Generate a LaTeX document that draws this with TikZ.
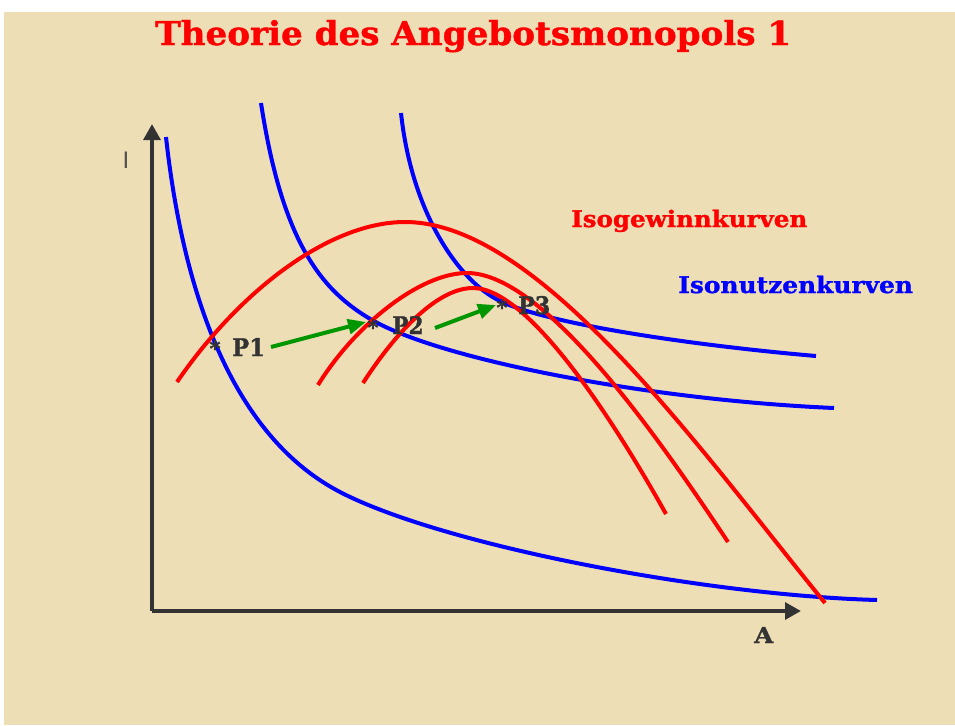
\documentclass[tikz,border=0pt]{standalone}
\usepackage{fontspec}
\usepackage{graphicx}
\usetikzlibrary{arrows.meta}
\newfontfamily\slabfont[BoldFeatures={FakeBold=1.2}]{DejaVu Serif}
\newfontfamily\thinfont{Liberation Sans}
\definecolor{parch}{RGB}{238,222,181}
\definecolor{axisgray}{RGB}{51,51,51}
\definecolor{arrgreen}{RGB}{0,150,0}
\newcommand{\fitbox}[3]{\resizebox{#1}{#2}{\slabfont\bfseries #3}}
\begin{document}
\begin{tikzpicture}[x=0.75pt,y=-0.75pt,
  axisline/.style={draw=axisgray,line width=3pt,-{Triangle[length=12pt,width=12.5pt]}},
  nutzen/.style={draw=blue,line width=3pt},
  gewinn/.style={draw=red,line width=3pt},
  movearrow/.style={draw=arrgreen,line width=3pt,-{Triangle[length=13.5pt,width=11pt]}},
  txt/.style={inner sep=0pt,anchor=base west},
  star/.style={inner sep=0pt,anchor=base,text=axisgray,font=\slabfont\bfseries\fontsize{16}{16}\selectfont}]
\useasboundingbox (0,0) rectangle (955,725);
\fill[white] (0,0) rectangle (955,725);
\fill[parch] (4,12) rectangle (955,725);
% title
\node[txt,text=red] (title) at (155,45) {\fitbox{477pt}{18.75pt}{Theorie des Angebotsmonopols 1}};
% axes
\coordinate (O) at (152,611);
\coordinate (ytop) at (152,124);
\coordinate (xend) at (801,611);
\draw[axisline] (O) -- (ytop);
\draw[axisline] (O) -- (xend);
\node[inner sep=0pt,anchor=base,text=axisgray!85,font=\thinfont\fontsize{18}{18}\selectfont] (ylab) at (126,168) {I};
\node[txt,text=axisgray] (xlab) at (754,643) {\fitbox{14.25pt}{12pt}{A}};
% blue curves (Isonutzenkurven)
\draw[nutzen] (166,137) .. controls (185,310) and (240,440) .. (340,492)
                        .. controls (440,544) and (700,595) .. (877,600);
\draw[nutzen] (261,103) .. controls (282,240) and (320,290) .. (372,320)
                        .. controls (442,360) and (650,400) .. (834,408);
\draw[nutzen] (401,113) .. controls (412,215) and (460,282) .. (500,301)
                        .. controls (550,325) and (700,346) .. (816,356);
% red curves (Isogewinnkurven)
\draw[gewinn] (177,382) .. controls (240,290) and (330,222) .. (405,222)
                        .. controls (540,222) and (700,450) .. (825,603);
\draw[gewinn] (318,385) .. controls (355,325) and (420,273) .. (467,273)
                        .. controls (545,273) and (660,440) .. (728,542);
\draw[gewinn] (363,383) .. controls (392,338) and (435,288) .. (473,288)
                        .. controls (530,288) and (618,428) .. (666,514);
% points
\node[star] (s1) at (215,356) {*};
\node[star] (s2) at (373,335) {*};
\node[star] (s3) at (502,315) {*};
\node[txt,text=axisgray] (p1) at (232,356) {\fitbox{24.5pt}{13.5pt}{P1}};
\node[txt,text=axisgray] (p2) at (392,334) {\fitbox{23.5pt}{13.5pt}{P2}};
\node[txt,text=axisgray] (p3) at (518,314) {\fitbox{24pt}{13.5pt}{P3}};
% shift arrows
\coordinate (a1s) at (271,347);
\coordinate (a1e) at (366,322);
\coordinate (a2s) at (435,328);
\coordinate (a2e) at (496,305);
\draw[movearrow] (a1s) -- (a1e);
\draw[movearrow] (a2s) -- (a2e);
% legend
\node[txt,text=red] (leg1) at (571,227) {\fitbox{177pt}{13pt}{Isogewinnkurven}};
\node[txt,text=blue] (leg2) at (678,293) {\fitbox{176pt}{13pt}{Isonutzenkurven}};
\end{tikzpicture}
\end{document}
